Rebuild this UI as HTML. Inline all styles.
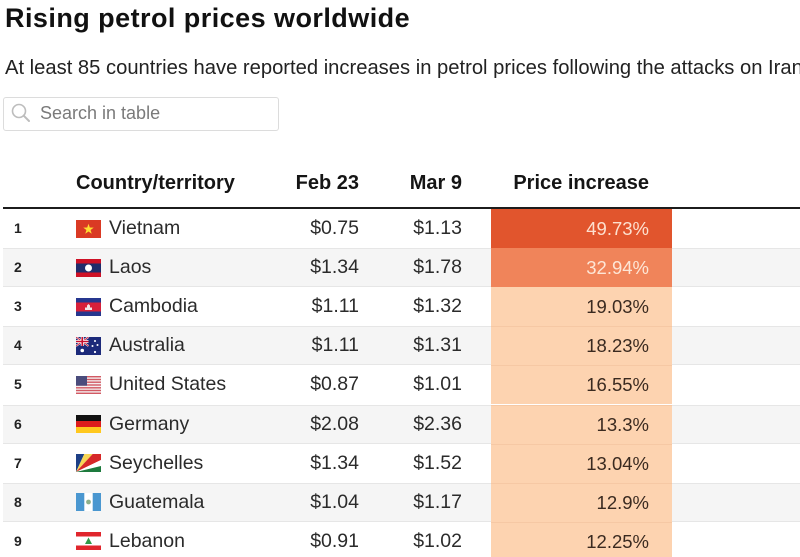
<!DOCTYPE html>
<html><head><meta charset="utf-8">
<style>
*{margin:0;padding:0;box-sizing:border-box}
html,body{width:800px;height:557px;overflow:hidden;background:#fff}
body{position:relative;font-family:"Liberation Sans",Arial,sans-serif;color:#2b2b2b}
.abs{position:absolute;white-space:nowrap}
.title{left:5px;top:5px;font-size:27px;line-height:27px;font-weight:bold;color:#111;letter-spacing:0.45px}
.sub{left:5px;top:58px;font-size:20.2px;line-height:20px;color:#222}
.search{left:3px;top:97px;width:276px;height:34px;border:1px solid #dcdcdc;border-radius:3px}
.stxt{left:40px;top:104px;font-size:18px;line-height:18px;color:#7a7a7a}
.hd{top:173px;font-size:20px;line-height:20px;font-weight:bold;color:#151515}
.hline{left:3px;top:207px;width:797px;height:2px;background:#1c1c1c}
.row{position:absolute;left:0;width:800px;height:39.1px}
.row .bg{position:absolute;left:3px;right:0;top:0;bottom:0}
.row.even .bg{background:#f5f5f5;border-top:1px solid #e6e6e6;border-bottom:1px solid #e6e6e6}
.row span{position:absolute;top:0;line-height:39px;white-space:nowrap}
.n{left:14px;font-size:14px;font-weight:bold;color:#222}
.c{left:109px;font-size:19.5px;color:#2b2b2b}
.f{right:441px;font-size:19.5px;color:#2b2b2b}
.m{right:338px;font-size:19.5px;color:#2b2b2b}
.p{position:absolute;left:491px;width:181px;top:0;height:100%;text-align:right;padding-right:23px;line-height:39px;font-size:18.5px;color:#3a2a20;background:#fdd3b0;box-shadow:inset 0 1px 0 #f6c8a4}
.flag{position:absolute;left:76px;top:10.5px;width:25px;height:18px}
</style></head><body>
<div class="abs title">Rising petrol prices worldwide</div>
<div class="abs sub">At least 85 countries have reported increases in petrol prices following the attacks on Iran</div>
<div class="abs search"></div>
<svg class="abs" style="left:0;top:0" width="40" height="135"><circle cx="19" cy="111" r="6.5" fill="none" stroke="#bdbdbd" stroke-width="1.6"/><line x1="23.6" y1="115.6" x2="29" y2="121" stroke="#bdbdbd" stroke-width="2" stroke-linecap="round"/></svg>
<div class="abs stxt">Search in table</div>

<div class="abs hd" style="left:76px">Country/territory</div>
<div class="abs hd" style="right:441px">Feb 23</div>
<div class="abs hd" style="right:338px">Mar 9</div>
<div class="abs hd" style="right:151px">Price increase</div>

<div class="row" style="top:209px"><div class="bg"></div>
<span class="n">1</span>
<svg class="flag" viewBox="0 0 25 18"><rect width="25" height="18" fill="#da3a24"/><polygon fill="#ffdd33" points="12.5,3.8 13.79,7.52 17.73,7.6 14.59,9.98 15.73,13.75 12.5,11.5 9.27,13.75 10.41,9.98 7.27,7.6 11.21,7.52"/></svg>
<span class="c">Vietnam</span><span class="f">$0.75</span><span class="m">$1.13</span>
<div class="p" style="background:#e1552d;color:#fde0cf;box-shadow:none">49.73%</div></div>

<div class="row even" style="top:248.1px"><div class="bg"></div>
<span class="n">2</span>
<svg class="flag" viewBox="0 0 25 18"><rect width="25" height="18" fill="#ce1126"/><rect y="4.5" width="25" height="9" fill="#1f2c6b"/><circle cx="12.5" cy="9" r="3.5" fill="#fff"/></svg>
<span class="c">Laos</span><span class="f">$1.34</span><span class="m">$1.78</span>
<div class="p" style="background:#f0845a;color:#fde6d6;box-shadow:none">32.94%</div></div>

<div class="row" style="top:287.2px"><div class="bg"></div>
<span class="n">3</span>
<svg class="flag" viewBox="0 0 25 18"><rect width="25" height="18" fill="#26378f"/><rect y="4.5" width="25" height="9" fill="#d8203a"/><path d="M9 12 L9 9.5 L11 9.5 L11 7.5 L12.5 6 L14 7.5 L14 9.5 L16 9.5 L16 12 Z" fill="#f3e6e6"/></svg>
<span class="c">Cambodia</span><span class="f">$1.11</span><span class="m">$1.32</span>
<div class="p" style="box-shadow:none">19.03%</div></div>

<div class="row even" style="top:326.3px"><div class="bg"></div>
<span class="n">4</span>
<svg class="flag" viewBox="0 0 25 18"><rect width="25" height="18" fill="#1c2a7a"/><path d="M0 0 L12.5 9 M12.5 0 L0 9" stroke="#fff" stroke-width="2"/><path d="M0 0 L12.5 9 M12.5 0 L0 9" stroke="#c8102e" stroke-width="0.8"/><path d="M6.25 0 V9 M0 4.5 H12.5" stroke="#fff" stroke-width="3"/><path d="M6.25 0 V9 M0 4.5 H12.5" stroke="#c8102e" stroke-width="1.6"/><circle cx="6.25" cy="13.5" r="1.8" fill="#fff"/><circle cx="19" cy="4" r="1" fill="#fff"/><circle cx="16.5" cy="9" r="1" fill="#fff"/><circle cx="21.5" cy="8" r="1" fill="#fff"/><circle cx="19" cy="15" r="1.1" fill="#fff"/></svg>
<span class="c">Australia</span><span class="f">$1.11</span><span class="m">$1.31</span>
<div class="p">18.23%</div></div>

<div class="row" style="top:365.4px"><div class="bg"></div>
<span class="n">5</span>
<svg class="flag" viewBox="0 0 25 18"><rect width="25" height="18" fill="#f4eeee"/><g fill="#d25a64"><rect y="0" width="25" height="1.4"/><rect y="2.8" width="25" height="1.4"/><rect y="5.5" width="25" height="1.4"/><rect y="8.3" width="25" height="1.4"/><rect y="11.1" width="25" height="1.4"/><rect y="13.8" width="25" height="1.4"/><rect y="16.6" width="25" height="1.4"/></g><rect width="11" height="9.7" fill="#4a4c7c"/></svg>
<span class="c">United States</span><span class="f">$0.87</span><span class="m">$1.01</span>
<div class="p">16.55%</div></div>

<div class="row even" style="top:404.5px"><div class="bg"></div>
<span class="n">6</span>
<svg class="flag" viewBox="0 0 25 18"><rect width="25" height="6" fill="#111"/><rect y="6" width="25" height="6" fill="#dd1c1c"/><rect y="12" width="25" height="6" fill="#ffc81e"/></svg>
<span class="c">Germany</span><span class="f">$2.08</span><span class="m">$2.36</span>
<div class="p">13.3%</div></div>

<div class="row" style="top:443.6px"><div class="bg"></div>
<span class="n">7</span>
<svg class="flag" viewBox="0 0 25 18"><polygon points="0,18 0,0 8.3,0" fill="#1d3f86"/><polygon points="0,18 8.3,0 16.7,0" fill="#f7d655"/><polygon points="0,18 16.7,0 25,0 25,6" fill="#d62828"/><polygon points="0,18 25,6 25,12" fill="#fff"/><polygon points="0,18 25,12 25,18" fill="#1d7a3d"/></svg>
<span class="c">Seychelles</span><span class="f">$1.34</span><span class="m">$1.52</span>
<div class="p">13.04%</div></div>

<div class="row even" style="top:482.7px"><div class="bg"></div>
<span class="n">8</span>
<svg class="flag" viewBox="0 0 25 18"><rect width="25" height="18" fill="#fff"/><rect width="8.3" height="18" fill="#4a97d0"/><rect x="16.7" width="8.3" height="18" fill="#4a97d0"/><circle cx="12.5" cy="9" r="2.4" fill="#8fb08a"/></svg>
<span class="c">Guatemala</span><span class="f">$1.04</span><span class="m">$1.17</span>
<div class="p">12.9%</div></div>

<div class="row" style="top:521.8px"><div class="bg"></div>
<span class="n">9</span>
<svg class="flag" viewBox="0 0 25 18"><rect width="25" height="18" fill="#fff"/><rect width="25" height="4.5" fill="#e0262d"/><rect y="13.5" width="25" height="4.5" fill="#e0262d"/><polygon points="12.5,5.5 16,12 9,12" fill="#2f9a48"/></svg>
<span class="c">Lebanon</span><span class="f">$0.91</span><span class="m">$1.02</span>
<div class="p">12.25%</div></div>

<div class="abs hline"></div>
</body></html>
